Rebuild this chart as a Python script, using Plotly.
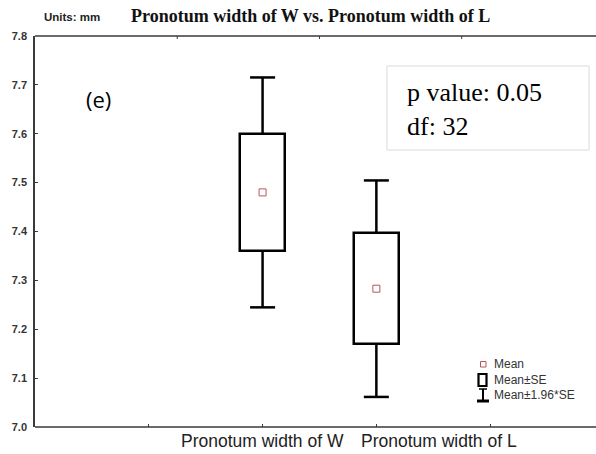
import plotly.graph_objects as go

# Group statistics (mm)
groups = ["Pronotum width of W", "Pronotum width of L"]
positions = [1, 2]
means = [7.48, 7.283]
se = [0.12, 0.113]
label_x = [1, 2.55]

y_ticks = [7.0, 7.1, 7.2, 7.3, 7.4, 7.5, 7.6, 7.7, 7.8]
bottom_ticks = [0, 1, 2, 3]
top_ticks = [0.25, 1.5, 2.75]

p_value = "0.05"
dof = 32

W, H = 596, 454
ML, MR, MT, MB = 35, 8, 36, 27
PW, PH = W - ML - MR, H - MT - MB


def px(x):
    return (x - ML) / PW


def py(y):
    return (H - MB - y) / PH


fig = go.Figure()

# Mean ± SE boxes
fig.add_trace(go.Bar(
    x=positions,
    y=[2 * s for s in se],
    base=[m - s for m, s in zip(means, se)],
    width=0.4,
    marker=dict(color="white", line=dict(color="black", width=2.5)),
    hoverinfo="skip",
    showlegend=False,
))

# Whiskers to mean ± 1.96*SE with caps
wx, wy = [], []
cap = 0.11
for x, m, s in zip(positions, means, se):
    hi, lo = m + 1.96 * s, m - 1.96 * s
    wx += [x, x, None, x, x, None, x - cap, x + cap, None, x - cap, x + cap, None]
    wy += [m + s, hi, None, m - s, lo, None, hi, hi, None, lo, lo, None]
fig.add_trace(go.Scatter(
    x=wx, y=wy, mode="lines",
    line=dict(color="black", width=2.5),
    hoverinfo="skip", showlegend=False,
))

# Means
fig.add_trace(go.Scatter(
    x=positions, y=means, mode="markers",
    marker=dict(symbol="square-open", size=7, color="#b8555a", line=dict(width=1)),
    showlegend=False,
))

axis_line = "#3a3a3a"
x_range = [-1, 3.86]
y_range = [7.0, 7.8]
fig.update_layout(
    width=W, height=H,
    margin=dict(l=ML, r=MR, t=MT, b=MB),
    paper_bgcolor="white", plot_bgcolor="white",
    xaxis=dict(
        range=x_range, showgrid=False, zeroline=False, showline=False,
        tickvals=bottom_ticks, ticks="inside", ticklen=3, tickcolor=axis_line,
        showticklabels=False,
    ),
    yaxis=dict(
        range=y_range, showgrid=False, zeroline=False,
        showline=True, linecolor=axis_line, linewidth=1.5,
        tickvals=y_ticks, tickformat=".1f", ticks="inside", ticklen=3, tickcolor=axis_line,
        tickfont=dict(family="Liberation Sans", size=11, color="#333", weight="bold"),
        ticklabelstandoff=4,
    ),
    bargap=0,
    showlegend=False,
)


def note(text, x, y, size, family="Liberation Sans", xanchor="center", **kw):
    return dict(text=text, x=px(x), y=py(y), xref="paper", yref="paper",
                xanchor=xanchor, yanchor="middle", showarrow=False,
                font=dict(family=family, size=size, **kw))


annotations = [
    note("Units: mm", 72, 17, 11.5, color="#222", weight="bold"),
    note("Pronotum width of W vs. Pronotum width of L", 310, 16, 18,
         family="Liberation Serif", color="#111", weight="bold"),
    note("(e)", 98, 99, 22, family="Open Sans", color="black"),
    dict(note(f"p value: {p_value}<br>df: {dof}", 405, 109, 26,
              family="Liberation Serif", xanchor="left", color="black"), align="left"),
    note("Mean", 492, 364, 12, xanchor="left", color="#333"),
    note("Mean±SE", 492, 380, 12, xanchor="left", color="#333"),
    note("Mean±1.96*SE", 492, 395, 12, xanchor="left", color="#333"),
]
for name, lx in zip(groups, label_x):
    annotations.append(dict(
        text=name, x=lx, y=py(441), xref="x", yref="paper",
        xanchor="center", yanchor="middle", showarrow=False,
        font=dict(family="Liberation Sans", size=17.5, color="#222"),
    ))
fig.update_layout(annotations=annotations)

# frame lines running out to the right edge of the page
edge = px(W)
shapes = [
    dict(type="line", xref="paper", yref="paper", x0=0, x1=edge, y0=1, y1=1,
         line=dict(color=axis_line, width=1.5)),
    dict(type="line", xref="paper", yref="paper", x0=0, x1=edge, y0=0, y1=0,
         line=dict(color=axis_line, width=1.5)),
]
for t in top_ticks:
    shapes.append(dict(type="line", xref="x", yref="paper", x0=t, x1=t, y0=1, y1=1 - 3 / PH,
                       line=dict(color=axis_line, width=1)))
shapes += [
    # frame of the statistics box
    dict(type="rect", xref="paper", yref="paper", x0=px(387), x1=px(589), y0=py(150), y1=py(66),
         line=dict(color="#e8e8e8", width=1.5), fillcolor="rgba(0,0,0,0)"),
    # legend: mean marker
    dict(type="rect", xref="paper", yref="paper", x0=px(480.5), x1=px(486), y0=py(367), y1=py(361.5),
         line=dict(color="#b8555a", width=1)),
    # legend: SE box
    dict(type="rect", xref="paper", yref="paper", x0=px(478.5), x1=px(486.5), y0=py(386), y1=py(374),
         line=dict(color="black", width=2.2)),
    # legend: 1.96*SE whisker
    dict(type="line", xref="paper", yref="paper", x0=px(479), x1=px(487), y0=py(389), y1=py(389),
         line=dict(color="black", width=1.5)),
    dict(type="line", xref="paper", yref="paper", x0=px(483), x1=px(483), y0=py(389), y1=py(401),
         line=dict(color="black", width=2)),
    dict(type="line", xref="paper", yref="paper", x0=px(477), x1=px(489), y0=py(401), y1=py(401),
         line=dict(color="black", width=3)),
]
fig.update_layout(shapes=shapes)

fig.write_html("out.html")
